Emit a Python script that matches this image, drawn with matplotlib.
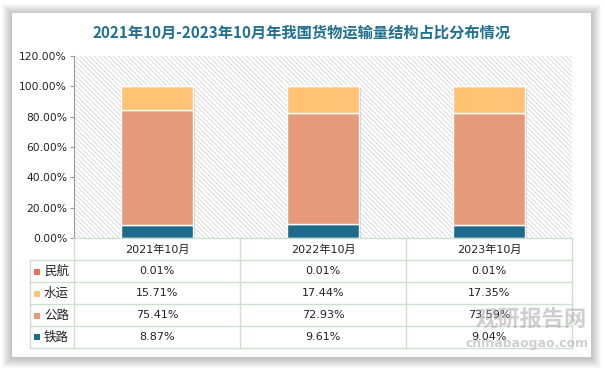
import numpy as np
import matplotlib
matplotlib.use('Agg')
import matplotlib.pyplot as plt
from matplotlib.patches import Rectangle
from matplotlib import transforms

plt.rcParams['font.family'] = ['DejaVu Sans', 'Noto Sans CJK SC']
plt.rcParams['hatch.color'] = '#d6d6d6'
plt.rcParams['hatch.linewidth'] = 0.6

# 数据
periods = ['2021年10月', '2022年10月', '2023年10月']
rail = [8.87, 9.61, 9.04]      # 铁路
road = [75.41, 72.93, 73.59]   # 公路
water = [15.71, 17.44, 17.35]  # 水运
air = [0.01, 0.01, 0.01]       # 民航
series_names = ['民航', '水运', '公路', '铁路']
yticks = [0, 20, 40, 60, 80, 100, 120]

c_rail, c_road, c_water, c_air = '#1c6b8d', '#e59b7b', '#ffc376', '#e8735f'
grid_c = '#cddfcd'

W, H = 605, 369
fig = plt.figure(figsize=(W / 100, H / 100), dpi=100)
fig.patch.set_facecolor('white')

# 背景卡片 + 阴影
bg = fig.add_axes([0, 0, 1, 1], zorder=0)
bg.set_xlim(0, W); bg.set_ylim(H, 0); bg.axis('off')
for k in range(10, 0, -1):
    bg.add_patch(Rectangle((12 - k, 13 - k + 1), 579 + 2 * k, 344 + 2 * k,
                           facecolor='black', edgecolor='none', alpha=0.022))
bg.add_patch(Rectangle((12, 13), 579, 344, facecolor='white', edgecolor='none'))
bg.text(302, 33, '2021年10月-2023年10月年我国货物运输量结构占比分布情况',
        ha='center', va='center', fontsize=11, fontweight='bold', color='#21708f',
        family=['Noto Sans CJK SC'])

# 主图
x0, x1, ytop, ybot = 74, 572, 55.7, 238.3
ax = fig.add_axes([x0 / W, 1 - ybot / H, (x1 - x0) / W, (ybot - ytop) / H], zorder=1)
ax.patch.set_facecolor('white')
ax.add_patch(Rectangle((0, 0), 1, 1, transform=ax.transAxes, facecolor='none',
                       edgecolor='#d6d6d6', hatch='\\\\\\\\\\\\\\', lw=0, zorder=0))
x = np.arange(len(periods))
bw = 0.43
shadow_tr = transforms.offset_copy(ax.transData, fig=fig, x=2.5, y=-1.5, units='dots')
totals = np.array(rail) + np.array(road) + np.array(water) + np.array(air)
ax.bar(x, totals, bw, color='#b8b8b8', alpha=0.6, transform=shadow_tr, zorder=1)
b = np.zeros(3)
for vals, col in [(rail, c_rail), (road, c_road), (water, c_water), (air, c_air)]:
    ax.bar(x, vals, bw, bottom=b, color=col, edgecolor='white', linewidth=1, zorder=2)
    b += np.array(vals)
ax.set_xlim(-0.5, 2.5)
ax.set_ylim(0, 120)
ax.set_yticks(yticks)
ax.set_yticklabels([f'{v:.2f}%' for v in yticks], fontsize=7.7, color='#222222')
ax.set_xticks([])
for s in ['top', 'right', 'bottom']:
    ax.spines[s].set_visible(False)
ax.spines['left'].set_color('#9a9a9a')
ax.tick_params(axis='y', length=3, color='#9a9a9a', pad=2)

# 数据表
ov = fig.add_axes([0, 0, 1, 1], zorder=2)
ov.set_xlim(0, W); ov.set_ylim(H, 0); ov.axis('off')
ov.patch.set_alpha(0)
cw = (x1 - x0) / len(periods)
rows_y = [238.3, 260, 282, 304, 326, 347.5]
lx = 30
ov.plot([x0, x1], [rows_y[0]] * 2, color=grid_c, lw=1)
for yy in rows_y[1:]:
    ov.plot([lx, x1], [yy, yy], color=grid_c, lw=1)
ov.plot([lx, lx], [rows_y[1], rows_y[-1]], color=grid_c, lw=1)
for i in range(len(periods) + 1):
    ov.plot([x0 + i * cw] * 2, [rows_y[0], rows_y[-1]], color=grid_c, lw=1)
for i, p in enumerate(periods):
    ov.text(x0 + (i + 0.5) * cw, (rows_y[0] + rows_y[1]) / 2 + 0.5, p, ha='center',
            va='center', fontsize=8, color='#222222')
table_rows = [air, water, road, rail]
row_cols = [c_air, c_water, c_road, c_rail]
for r, (name, vals, col) in enumerate(zip(series_names, table_rows, row_cols)):
    yc = (rows_y[r + 1] + rows_y[r + 2]) / 2 + 0.5
    ov.add_patch(Rectangle((34, yc - 3), 6, 6, facecolor=col, edgecolor='none'))
    ov.text(44, yc, name, ha='left', va='center', fontsize=9, color='#222222')
    for i, v in enumerate(vals):
        ov.text(x0 + (i + 0.5) * cw, yc, f'{v:.2f}%', ha='center', va='center',
                fontsize=8, color='#222222')

# 水印
ov.text(531, 320, '观研报告网', ha='center', va='center', fontsize=16, fontweight='bold',
        color='#a8a8a8', alpha=0.55, family=['Noto Sans CJK SC'])
ov.text(527, 343, 'chinabaogao.com', ha='center', va='center', fontsize=9,
        fontweight='bold', color='#a8a8a8', alpha=0.55)

fig.savefig('out.png', dpi=100)
